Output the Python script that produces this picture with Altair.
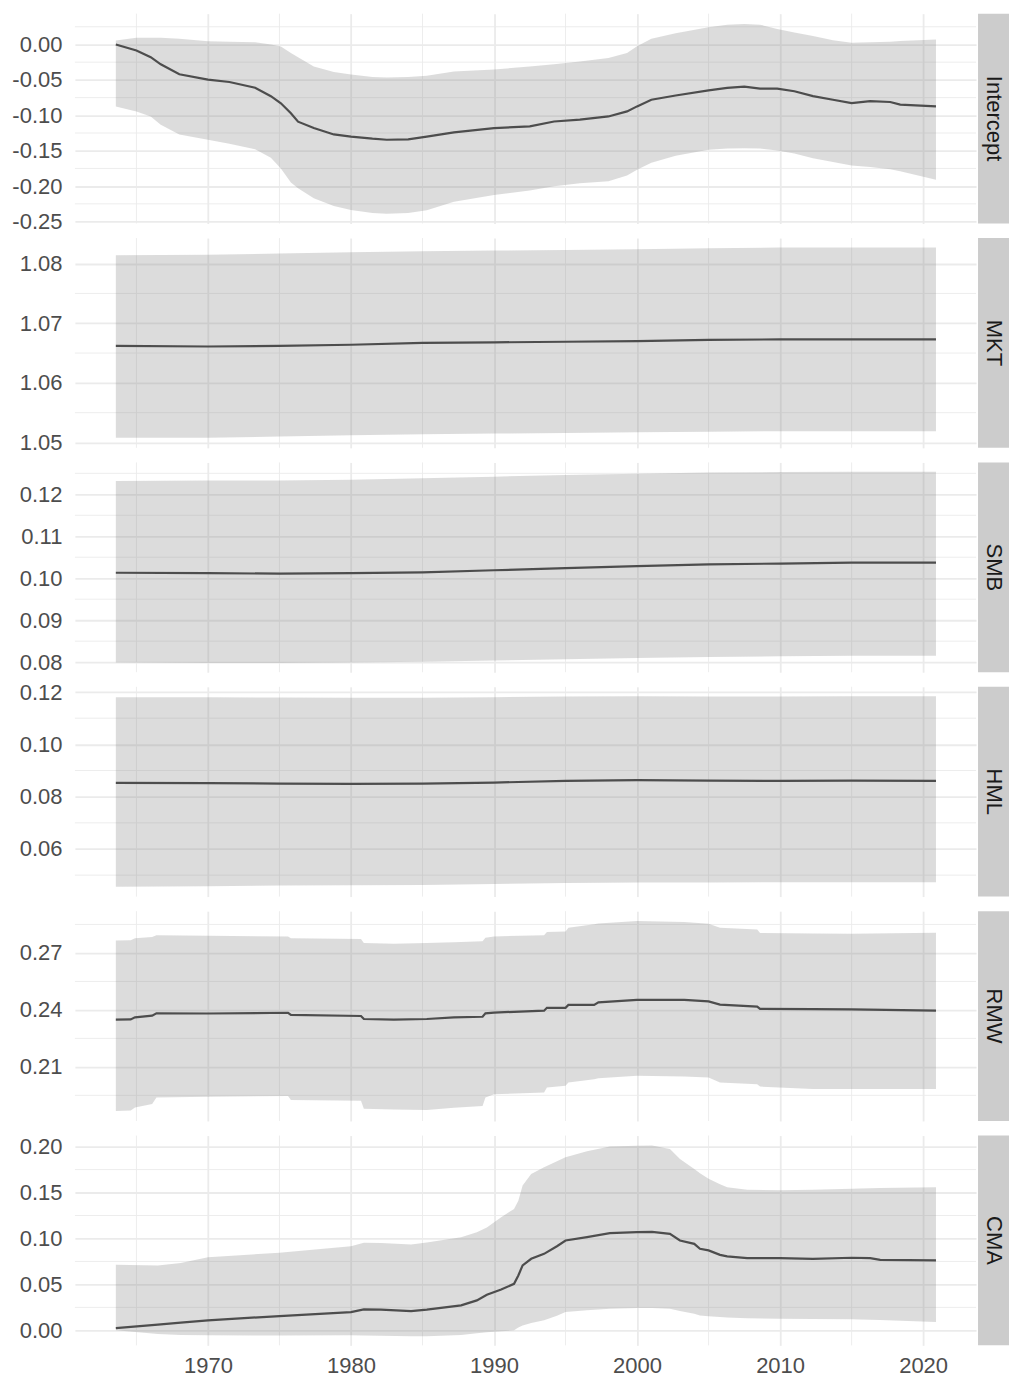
import altair as alt
import pandas as pd

# ---------------- data ----------------
INT_YEARS = [1963.56, 1965, 1966, 1966.7, 1968, 1970, 1971.5, 1973.3, 1974.4, 1975.1, 1975.8, 1976.3,
             1977.4, 1978.8, 1980, 1981.5, 1982.5, 1984, 1985.3, 1987.2, 1990, 1992.5, 1994.2, 1996,
             1998, 1999.3, 2000, 2001, 2002.7, 2005, 2006.3, 2007.5, 2008.6, 2009.8, 2011, 2012.3,
             2013.7, 2015, 2016.3, 2017.7, 2018.4, 2020.9]
INT_EST = [0.000, -0.0085, -0.018, -0.028, -0.042, -0.0496, -0.053, -0.061, -0.073, -0.083, -0.097, -0.109,
           -0.118, -0.127, -0.130, -0.133, -0.1345, -0.134, -0.130, -0.124, -0.118, -0.1157, -0.1087, -0.106,
           -0.1016, -0.0945, -0.0874, -0.078, -0.072, -0.0647, -0.0614, -0.0595, -0.0623, -0.0623, -0.066, -0.073,
           -0.078, -0.0827, -0.080, -0.0812, -0.085, -0.0874]
INT_HI = [0.0057, 0.0094, 0.0094, 0.0094, 0.008, 0.0047, 0.004, 0.003, 0.000, -0.003, -0.012, -0.018,
          -0.031, -0.039, -0.0425, -0.046, -0.0465, -0.046, -0.044, -0.038, -0.0354, -0.031, -0.028, -0.024,
          -0.019, -0.012, -0.0024, 0.008, 0.016, 0.0245, 0.028, 0.029, 0.028, 0.022, 0.017, 0.012,
          0.006, 0.0024, 0.003, 0.004, 0.005, 0.0071]
INT_LO = [-0.0874, -0.0945, -0.1016, -0.1133, -0.127, -0.1346, -0.140, -0.148, -0.160, -0.175, -0.195, -0.203,
          -0.217, -0.228, -0.2337, -0.238, -0.239, -0.238, -0.234, -0.222, -0.2125, -0.206, -0.200, -0.196,
          -0.193, -0.185, -0.177, -0.167, -0.157, -0.1487, -0.147, -0.1464, -0.147, -0.1497, -0.154, -0.1606,
          -0.166, -0.171, -0.173, -0.176, -0.179, -0.191]

FLAT_YEARS = [1963.56, 1970, 1975, 1980, 1985, 1990, 1995, 2000, 2005, 2010, 2015, 2020.9]
MKT_EST = [1.0662, 1.0661, 1.0662, 1.0664, 1.0667, 1.0668, 1.0669, 1.0670, 1.0672, 1.0673, 1.0673, 1.0673]
MKT_HI = [1.0814, 1.0815, 1.0817, 1.0819, 1.0821, 1.0822, 1.0823, 1.0824, 1.0826, 1.0827, 1.0827, 1.0827]
MKT_LO = [1.0508, 1.0508, 1.0510, 1.0512, 1.0514, 1.0515, 1.0516, 1.0517, 1.0518, 1.0519, 1.0519, 1.0519]

SMB_EST = [0.1013, 0.1012, 0.1011, 0.1012, 0.1014, 0.1019, 0.1024, 0.1029, 0.1033, 0.1035, 0.1037, 0.1037]
SMB_HI = [0.1232, 0.1233, 0.1233, 0.1235, 0.1238, 0.1242, 0.1246, 0.1249, 0.1252, 0.1253, 0.1254, 0.1254]
SMB_LO = [0.0799, 0.0798, 0.0798, 0.0799, 0.0801, 0.0804, 0.0807, 0.0810, 0.0812, 0.0814, 0.0815, 0.0815]

HML_EST = [0.0853, 0.0852, 0.0850, 0.0849, 0.0850, 0.0854, 0.0860, 0.0863, 0.0861, 0.0860, 0.0861, 0.0860]
HML_HI = [0.1180, 0.1180, 0.1179, 0.1178, 0.1178, 0.1180, 0.1183, 0.1184, 0.1183, 0.1183, 0.1184, 0.1184]
HML_LO = [0.0456, 0.0458, 0.0460, 0.0461, 0.0462, 0.0466, 0.0470, 0.0472, 0.0472, 0.0473, 0.0473, 0.0473]

RMW_YEARS = [1963.56, 1964.6, 1964.9, 1966.1, 1966.4, 1970, 1975.6, 1975.8, 1980.7, 1980.9, 1983, 1985.3,
             1987.2, 1989.2, 1989.4, 1990, 1993.5, 1993.7, 1995, 1995.2, 1997.0, 1997.3, 2000, 2003.3,
             2005, 2005.8, 2008.4, 2008.6, 2012.3, 2015, 2020.9]
RMW_EST = [0.2349, 0.2350, 0.2361, 0.2370, 0.2382, 0.2381, 0.2385, 0.2374, 0.2368, 0.2352, 0.2349, 0.2352,
           0.2361, 0.2364, 0.2382, 0.2386, 0.2396, 0.2411, 0.2411, 0.2426, 0.2426, 0.2440, 0.2453, 0.2453,
           0.2445, 0.2428, 0.2417, 0.2405, 0.2404, 0.2403, 0.2396]
RMW_HI = [0.2766, 0.2767, 0.2778, 0.2784, 0.2793, 0.2790, 0.2787, 0.2778, 0.2774, 0.2752, 0.2749, 0.2752,
          0.2757, 0.2761, 0.2780, 0.2787, 0.2793, 0.2810, 0.2813, 0.2833, 0.2851, 0.2855, 0.2868, 0.2863,
          0.2854, 0.2833, 0.2823, 0.2805, 0.2802, 0.2801, 0.2807]
RMW_LO = [0.1868, 0.1870, 0.1886, 0.1904, 0.1938, 0.1942, 0.1947, 0.1926, 0.1921, 0.1880, 0.1875, 0.1873,
          0.1885, 0.1894, 0.1938, 0.1956, 0.1965, 0.1991, 0.2000, 0.2017, 0.2035, 0.2040, 0.2053, 0.2049,
          0.2044, 0.2017, 0.2009, 0.1996, 0.1983, 0.1983, 0.1983]

CMA_YEARS = [1963.56, 1966.5, 1968.1, 1970, 1975, 1980, 1980.9, 1982.1, 1984.2, 1985.3, 1987.7, 1988.8,
             1989.5, 1990.5, 1991.4, 1991.7, 1992.0, 1992.6, 1993.5, 1994.4, 1995, 1996.5, 1998.1, 2000,
             2001.05, 2002.3, 2003.0, 2004.0, 2004.4, 2005, 2005.8, 2006.3, 2007.7, 2010, 2012.3, 2015,
             2016.3, 2017.0, 2020.9]
CMA_EST = [0.0025, 0.0063, 0.0085, 0.0109, 0.0156, 0.0199, 0.0228, 0.0226, 0.0210, 0.0225, 0.0272, 0.0326,
           0.0388, 0.0444, 0.0507, 0.0598, 0.0707, 0.0779, 0.0833, 0.0916, 0.0978, 0.1014, 0.1058, 0.1069,
           0.1071, 0.1051, 0.0978, 0.0942, 0.0888, 0.0870, 0.0822, 0.0805, 0.0786, 0.0786, 0.0779, 0.0790,
           0.0786, 0.0768, 0.0761]
CMA_HI = [0.0714, 0.0707, 0.0732, 0.0797, 0.0844, 0.0916, 0.0953, 0.0950, 0.0935, 0.0955, 0.1014, 0.1069,
          0.1120, 0.1232, 0.1320, 0.1410, 0.1576, 0.1703, 0.1775, 0.1840, 0.1884, 0.1950, 0.2000, 0.2008,
          0.2011, 0.1975, 0.1866, 0.1757, 0.1710, 0.1649, 0.1590, 0.1558, 0.1530, 0.1525, 0.1530, 0.1540,
          0.1547, 0.1548, 0.1558]
CMA_LO = [0.000, -0.004, -0.005, -0.0054, -0.0055, -0.0054, -0.0055, -0.0058, -0.0063, -0.0065, -0.005, -0.003,
          -0.002, -0.001, 0.000, 0.003, 0.0054, 0.008, 0.011, 0.016, 0.0199, 0.022, 0.0235, 0.0243,
          0.0243, 0.0236, 0.021, 0.018, 0.0163, 0.0155, 0.0145, 0.014, 0.0132, 0.0127, 0.0124, 0.0120,
          0.0115, 0.0112, 0.0090]

X_MAJOR = [1970, 1980, 1990, 2000, 2010, 2020]
X_MINOR = [1965, 1975, 1985, 1995, 2005, 2015]
X_DOMAIN = [1960.7, 2023.7]

PANELS = [
    ("Intercept", INT_YEARS, INT_EST, INT_LO, INT_HI, [-0.2527, 0.0435],
     [0.0, -0.05, -0.10, -0.15, -0.20, -0.25], [0.025, -0.025, -0.075, -0.125, -0.175, -0.225]),
    ("MKT", FLAT_YEARS, MKT_EST, MKT_LO, MKT_HI, [1.0491, 1.0843],
     [1.05, 1.06, 1.07, 1.08], [1.055, 1.065, 1.075]),
    ("SMB", FLAT_YEARS, SMB_EST, SMB_LO, SMB_HI, [0.0776, 0.1276],
     [0.08, 0.09, 0.10, 0.11, 0.12], [0.085, 0.095, 0.105, 0.115, 0.125]),
    ("HML", FLAT_YEARS, HML_EST, HML_LO, HML_HI, [0.0418, 0.1220],
     [0.06, 0.08, 0.10, 0.12], [0.05, 0.07, 0.09, 0.11]),
    ("RMW", RMW_YEARS, RMW_EST, RMW_LO, RMW_HI, [0.1815, 0.2920],
     [0.21, 0.24, 0.27], [0.195, 0.225, 0.255, 0.285]),
    ("CMA", CMA_YEARS, CMA_EST, CMA_LO, CMA_HI, [-0.0163, 0.2120],
     [0.00, 0.05, 0.10, 0.15, 0.20], [0.025, 0.075, 0.125, 0.175]),
]

# ---------------- styling ----------------
W, H = 902, 210
FONT = "Liberation Sans"
FS = 22
GRID = "#ebebeb"
LABEL = "#4d4d4d"
MINUS = "\u2212"


def make_panel(name, years, est, lo, hi, ydom, ymajor, yminor, last):
    df = pd.DataFrame({"year": years, "est": est, "lo": lo, "hi": hi})
    xs = alt.Scale(domain=X_DOMAIN, nice=False, zero=False)
    ys = alt.Scale(domain=ydom, nice=False, zero=False)
    xaxis = alt.Axis(values=X_MAJOR, grid=True, gridColor=GRID, gridWidth=1.8,
                     labels=last, ticks=False, tickSize=0, domain=False, title=None,
                     format="d", labelFont=FONT, labelFontSize=FS, labelColor=LABEL,
                     labelPadding=10 if last else 0, minExtent=0,
                     maxExtent=200 if last else 0)
    yaxis = alt.Axis(values=ymajor, grid=True, gridColor=GRID, gridWidth=1.8,
                     ticks=False, tickSize=0, domain=False, title=None, format=".2f",
                     labelExpr="replace(datum.label, '" + MINUS + "', '-')",
                     labelFont=FONT, labelFontSize=FS, labelColor=LABEL, labelPadding=13,
                     minExtent=0)

    xminor = alt.Chart(pd.DataFrame({"v": X_MINOR})).mark_rule(
        color=GRID, strokeWidth=0.9).encode(
        x=alt.X("v:Q", scale=xs, axis=xaxis), y=alt.value(0), y2=alt.value(H))
    yminor = alt.Chart(pd.DataFrame({"v": yminor})).mark_rule(
        color=GRID, strokeWidth=0.9).encode(
        y=alt.Y("v:Q", scale=ys, axis=yaxis), x=alt.value(0), x2=alt.value(W))

    base = alt.Chart(df)
    band = base.mark_area(color="#808080", opacity=0.28).encode(
        x=alt.X("year:Q", scale=xs, axis=xaxis),
        y=alt.Y("lo:Q", scale=ys, axis=yaxis),
        y2="hi:Q")
    line = base.mark_line(color="#4d4d4d", strokeWidth=2.2).encode(
        x=alt.X("year:Q", scale=xs, axis=xaxis),
        y=alt.Y("est:Q", scale=ys, axis=yaxis))

    lab = pd.DataFrame({"lab": [name]})
    strip = alt.Chart(lab).mark_rect(color="#cccccc").encode(
        x=alt.value(W + 2), x2=alt.value(W + 33), y=alt.value(0), y2=alt.value(H))
    strip_text = alt.Chart(lab).mark_text(
        angle=90, align="center", baseline="middle", font=FONT, fontSize=FS,
        color="#1a1a1a").encode(
        x=alt.value(W + 17.5), y=alt.value(H / 2), text="lab:N")

    return alt.layer(xminor, yminor, band, line, strip, strip_text).properties(
        width=W, height=H)


panels = [make_panel(*p, last=(i == len(PANELS) - 1)) for i, p in enumerate(PANELS)]

chart = alt.vconcat(*panels, spacing=14.6, bounds="flush").properties(
    padding={"left": 11, "top": 12, "right": 0, "bottom": 0},
    background="white",
).configure_view(stroke=None)

chart.save("out.html", embed_options={"renderer": "svg", "actions": False})
